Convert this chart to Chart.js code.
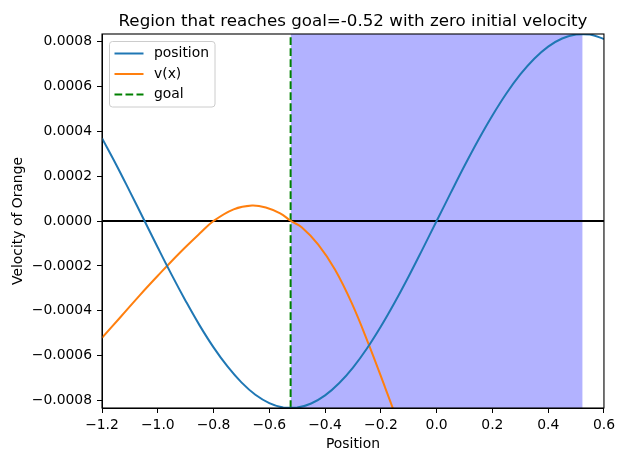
<!DOCTYPE html>
<html>
<head>
<meta charset="utf-8">
<script src="https://cdn.jsdelivr.net/npm/chart.js@4"></script>
<style>
body { margin: 0; background: #fff; }
#wrap { width: 619px; height: 453px; }
</style>
</head>
<body>
<div id="wrap"><canvas id="myChart" width="619" height="453"></canvas></div>
<script>
// position curve (blue)
const positions = [-1.2, -1.15, -1.1, -1.05, -1.0, -0.95, -0.9, -0.85, -0.8, -0.75, -0.7, -0.65, -0.6, -0.55,
    -0.5, -0.45, -0.4, -0.35, -0.3, -0.25, -0.2, -0.15, -0.1, -0.05, 0.0, 0.05, 0.1, 0.15, 0.2, 0.25, 0.3, 0.35,
    0.4, 0.45, 0.5, 0.55, 0.6];
const positionValues = [0.000369, 0.000253, 0.000131, 0.000007, -0.000118, -0.000240, -0.000356, -0.000465,
    -0.000563, -0.000648, -0.000719, -0.000774, -0.000811, -0.000831, -0.000831, -0.000813, -0.000777,
    -0.000723, -0.000653, -0.000568, -0.000470, -0.000362, -0.000246, -0.000124, 0.0, 0.000124, 0.000246,
    0.000362, 0.000470, 0.000568, 0.000653, 0.000723, 0.000777, 0.000813, 0.000831, 0.000831, 0.000811];

// v(x) curve (orange)
const vPositions = [-1.2, -1.135, -1.064, -1.0, -0.92, -0.849, -0.8, -0.728, -0.662, -0.61, -0.561, -0.522,
    -0.484, -0.4245, -0.3646, -0.3047, -0.245, -0.1853, -0.1554, -0.13];
const vValues = [-0.00052, -0.00043, -0.00033, -0.000244, -0.00014, -0.000055, 0.0, 0.000052, 0.000069,
    0.000059, 0.000034, 0.0, -0.000028, -0.000105, -0.000216, -0.000365, -0.000545, -0.00074, -0.00084, -0.00093];

const goal = -0.5236;
const regionStart = -0.5236;
const regionEnd = 0.5236;

const xMin = -1.2, xMax = 0.6;
const yMin = -0.000833, yMax = 0.000833;
const xTicks = [-1.2, -1.0, -0.8, -0.6, -0.4, -0.2, 0.0, 0.2, 0.4, 0.6];
const yTicks = [-0.0008, -0.0006, -0.0004, -0.0002, 0.0, 0.0002, 0.0004, 0.0006, 0.0008];

const FONT = "'DejaVu Sans', sans-serif";
const minus = (s) => s.replace("-", "\u2212");

const legendItems = [
    { label: "position", color: "#1f77b4", dash: [] },
    { label: "v(x)", color: "#ff7f0e", dash: [] },
    { label: "goal", color: "#008000", dash: [7.7, 3.3] },
];

const decorations = {
    id: "decorations",
    afterDraw(chart) {
        const ctx = chart.ctx;
        const a = chart.chartArea;
        ctx.save();
        // spines
        ctx.strokeStyle = "#000";
        ctx.lineWidth = 1.1;
        ctx.strokeRect(a.left, a.top, a.right - a.left, a.bottom - a.top);

        // title and axis labels
        ctx.fillStyle = "#000";
        ctx.textAlign = "center";
        ctx.textBaseline = "alphabetic";
        ctx.font = "16.7px " + FONT;
        ctx.fillText("Region that reaches goal=-0.52 with zero initial velocity", (a.left + a.right) / 2, 26);
        ctx.font = "13.9px " + FONT;
        ctx.fillText("Position", (a.left + a.right) / 2, 448);
        ctx.save();
        ctx.translate(22, (a.top + a.bottom) / 2);
        ctx.rotate(-Math.PI / 2);
        ctx.fillText("Velocity of Orange", 0, 0);
        ctx.restore();

        // legend
        const bx = 109.5, by = 41.5, bw = 105.5, bh = 65.5, r = 3;
        ctx.beginPath();
        ctx.moveTo(bx + r, by);
        ctx.lineTo(bx + bw - r, by);
        ctx.quadraticCurveTo(bx + bw, by, bx + bw, by + r);
        ctx.lineTo(bx + bw, by + bh - r);
        ctx.quadraticCurveTo(bx + bw, by + bh, bx + bw - r, by + bh);
        ctx.lineTo(bx + r, by + bh);
        ctx.quadraticCurveTo(bx, by + bh, bx, by + bh - r);
        ctx.lineTo(bx, by + r);
        ctx.quadraticCurveTo(bx, by, bx + r, by);
        ctx.closePath();
        ctx.fillStyle = "rgba(255,255,255,0.8)";
        ctx.fill();
        ctx.strokeStyle = "#cccccc";
        ctx.lineWidth = 1;
        ctx.stroke();

        ctx.textAlign = "left";
        ctx.textBaseline = "middle";
        legendItems.forEach((item, i) => {
            const y = 53.5 + i * 20.5;
            ctx.beginPath();
            ctx.setLineDash(item.dash);
            ctx.strokeStyle = item.color;
            ctx.lineWidth = 2;
            ctx.moveTo(114.5, y);
            ctx.lineTo(143.5, y);
            ctx.stroke();
            ctx.setLineDash([]);
            ctx.fillStyle = "#000";
            ctx.fillText(item.label, 154, y);
        });
        ctx.restore();
    }
};

const toPoints = (xs, ys) => xs.map((x, i) => ({ x: x, y: ys[i] }));

const data = {
    datasets: [
        {
            label: "position",
            data: toPoints(positions, positionValues),
            borderColor: "#1f77b4",
            borderWidth: 2,
            tension: 0.4,
            order: 1,
        },
        {
            label: "v(x)",
            data: toPoints(vPositions, vValues),
            borderColor: "#ff7f0e",
            borderWidth: 2,
            tension: 0.4,
            order: 2,
        },
        {
            label: "goal",
            data: [{ x: goal, y: yMin }, { x: goal, y: yMax }],
            borderColor: "#008000",
            borderWidth: 2,
            borderDash: [7.7, 3.3],
            order: 3,
        },
        {
            label: "zero",
            data: [{ x: xMin, y: 0 }, { x: xMax, y: 0 }],
            borderColor: "#000",
            borderWidth: 2,
            order: 4,
        },
        {
            label: "region",
            data: [{ x: regionStart, y: yMax }, { x: regionEnd, y: yMax }],
            borderWidth: 0,
            borderColor: "rgba(0,0,0,0)",
            backgroundColor: "rgba(0,0,255,0.3)",
            fill: "start",
            order: 5,
        },
    ]
};

const config = {
    type: "line",
    data: data,
    plugins: [decorations],
    options: {
        responsive: false,
        animation: false,
        events: [],
        elements: { point: { radius: 0, hoverRadius: 0 } },
        layout: { padding: { left: 0, top: 34, right: 15, bottom: 0 } },
        plugins: {
            legend: { display: false },
            tooltip: { enabled: false },
        },
        scales: {
            x: {
                type: "linear",
                min: xMin,
                max: xMax,
                afterFit: (scale) => { scale.height = 45; },
                afterBuildTicks: (scale) => { scale.ticks = xTicks.map(v => ({ value: v })); },
                grid: { drawOnChartArea: false, drawTicks: true, tickLength: 5, color: "#000", lineWidth: 1 },
                border: { display: true, color: "#000", width: 1 },
                ticks: {
                    autoSkip: false,
                    maxRotation: 0,
                    padding: 4,
                    color: "#000",
                    font: { family: FONT, size: 13.9 },
                    callback: (value) => minus(value.toFixed(1)),
                }
            },
            y: {
                type: "linear",
                min: yMin,
                max: yMax,
                afterFit: (scale) => { scale.width = 102; },
                afterBuildTicks: (scale) => { scale.ticks = yTicks.map(v => ({ value: v })); },
                grid: { drawOnChartArea: false, drawTicks: true, tickLength: 5, color: "#000", lineWidth: 1 },
                border: { display: true, color: "#000", width: 1 },
                ticks: {
                    autoSkip: false,
                    padding: 5,
                    color: "#000",
                    font: { family: FONT, size: 13.9 },
                    callback: (value) => minus(value.toFixed(4)),
                }
            }
        }
    }
};

const myChart = new Chart(document.querySelector("#myChart").getContext("2d"), config);
</script>
</body>
</html>
